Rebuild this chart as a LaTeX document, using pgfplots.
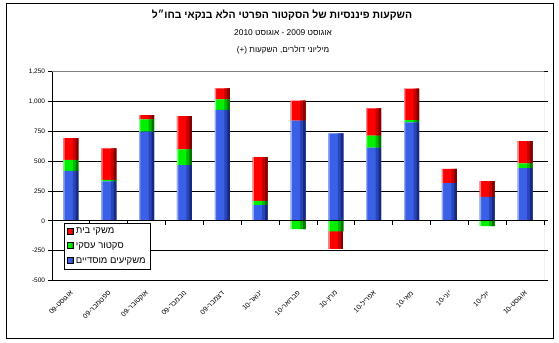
\documentclass[border=0pt]{standalone}
\usepackage{fontspec}
\setmainfont{Liberation Sans}
\newfontfamily\heb[Script=Hebrew]{Liberation Sans}
\usepackage{pgfplots}
\usepackage{pgfplotstable}
\pgfplotsset{compat=1.18}
\TeXXeTstate=1

% positive parts (millions of dollars)
\pgfplotstableread{
x blue green red
0 419 92 183
1 331 13 264
2 747 103 36
3 467 133 278
4 931 86 94
5 131 36 366
6 839 0 169
7 733 0 0
8 614 100 228
9 825 19 264
10 317 0 119
11 200 0 133
12 442 39 188
}\postab
% negative parts
\pgfplotstableread{
x green red
0 0 0
1 0 0
2 0 0
3 0 0
4 0 0
5 0 0
6 -69 0
7 -89 -151
8 0 0
9 0 0
10 0 0
11 -44 0
12 0 0
}\negtab

\definecolor{b0}{RGB}{150,172,240}
\definecolor{b1}{RGB}{58,96,232}
\definecolor{b2}{RGB}{40,70,185}
\definecolor{b3}{RGB}{24,42,128}
\definecolor{g0}{RGB}{130,255,130}
\definecolor{g1}{RGB}{0,240,0}
\definecolor{g2}{RGB}{0,185,0}
\definecolor{g3}{RGB}{0,118,0}
\definecolor{r0}{RGB}{255,130,130}
\definecolor{r1}{RGB}{255,0,0}
\definecolor{r2}{RGB}{200,0,0}
\definecolor{r3}{RGB}{128,0,0}

\pgfplotsset{
  base/.style={scale only axis, width=492bp, height=208.8bp,
    at={(0,0)}, anchor=south west,
    xmin=-0.5, xmax=12.5, ymin=-500, ymax=1250, enlargelimits=false,
    ybar stacked},
  lred/.style={legend image code/.code={\path[left color=r1, right color=r3, middle color=r1] (0bp,-2.5bp) rectangle (6bp,3.5bp);}},
  lgreen/.style={legend image code/.code={\path[left color=g1, right color=g3, middle color=g1] (0bp,-2.5bp) rectangle (6bp,3.5bp);}},
  lblue/.style={legend image code/.code={\path[left color=b1, right color=b3, middle color=b1] (0bp,-2.5bp) rectangle (6bp,3.5bp);}},
}

% one layer of bars: #1 bar width, #2 bar shift, #3 #4 #5 colours (blue, green, red)
\newcommand\barlayer[5]{%
\begin{axis}[base, hide axis]
\addplot[draw=none, fill=#3, bar width=#1, bar shift=#2] table[x=x,y=blue]{\postab};
\addplot[draw=none, fill=#4, bar width=#1, bar shift=#2] table[x=x,y=green]{\postab};
\addplot[draw=none, fill=#5, bar width=#1, bar shift=#2] table[x=x,y=red]{\postab};
\end{axis}
\begin{axis}[base, hide axis]
\addplot[draw=none, fill=#4, bar width=#1, bar shift=#2] table[x=x,y=green]{\negtab};
\addplot[draw=none, fill=#5, bar width=#1, bar shift=#2] table[x=x,y=red]{\negtab};
\end{axis}}

\begin{document}
\begin{tikzpicture}
\useasboundingbox (-52bp,-62.5bp) rectangle (507bp,280.5bp);
\draw[black, line width=0.8bp] (-46bp,-57.5bp) rectangle (501bp,277.5bp);

% axis A: frame, grid, labels
\begin{axis}[base,
  axis line style={draw=none},
  ytick={-500,-250,...,1250},
  yticklabels={-500,-250,0,250,500,750,{1,000},{1,250}},
  ymajorgrids, grid style={black, line width=0.7bp},
  xtick={0,...,12},
  xticklabels={
    \beginR אוגוסט-09\endR, \beginR ספטמבר-09\endR, \beginR אוקטובר-09\endR,
    \beginR נובמבר-09\endR, \beginR דצמבר-09\endR, \beginR ינואר-10\endR,
    \beginR פברואר-10\endR, \beginR מרץ-10\endR, \beginR אפריל-10\endR,
    \beginR מאי-10\endR, \beginR יוני-10\endR, \beginR יולי-10\endR,
    \beginR אוגוסט-10\endR},
  x tick label style={rotate=45, anchor=east, font=\heb\fontsize{7}{8}\selectfont,
    inner sep=1bp, xshift=-4bp, yshift=-6bp},
  major x tick style={draw=none},
  y tick style={black, line width=0.7bp},
  major tick length=3.5bp, tick align=outside,
  y tick label style={font=\fontsize{6.5}{7}\selectfont},
]
\draw[black, line width=0.7bp] (rel axis cs:0,0) -- (rel axis cs:0,1);
\draw[gray, line width=0.7bp] (rel axis cs:0,1) -- (rel axis cs:1,1) -- (rel axis cs:1,0);
\end{axis}

% bars, as layers that give each bar its light-to-dark shading
\barlayer{15bp}{0bp}{b1}{g1}{r1}
\barlayer{1.3bp}{-6.85bp}{b0}{g0}{r0}
\barlayer{5.5bp}{4.75bp}{b2}{g2}{r2}
\barlayer{2.5bp}{6.25bp}{b3}{g3}{r3}

% axis B: zero line with boundary ticks, legend
\begin{axis}[base,
  axis x line*=middle, axis y line=none,
  x axis line style={black, line width=0.7bp},
  xtick={-0.5,0.5,...,12.5}, xticklabels={},
  xtick style={black, line width=0.7bp},
  major tick length=4bp, tick align=outside,
  legend cell align=left,
  legend style={at={(0.0244,0.275)}, anchor=north west, draw=black, line width=0.6bp,
    font=\heb\fontsize{9.5}{11}\selectfont, inner xsep=3bp, inner ysep=2.5bp, row sep=3.5bp},
]
\addlegendimage{lred}
\addlegendentry{\beginR משקי בית\endR}
\addlegendimage{lgreen}
\addlegendentry{\beginR סקטור עסקי\endR}
\addlegendimage{lblue}
\addlegendentry{\beginR משקיעים מוסדיים\endR}
\end{axis}

\node[font=\heb\fontsize{10.5}{12}\selectfont\bfseries] at (230bp,265.5bp)
  {\beginR השקעות פיננסיות של הסקטור הפרטי הלא בנקאי בחו״ל\endR};
\node[font=\heb\fontsize{8.4}{9}\selectfont] at (231bp,247.5bp)
  {\beginR אוגוסט 2009 - אוגוסט 2010\endR};
\node[font=\heb\fontsize{8.2}{9}\selectfont] at (231bp,230.5bp)
  {\beginR מיליוני דולרים, השקעות (+)\endR};
\end{tikzpicture}
\end{document}
